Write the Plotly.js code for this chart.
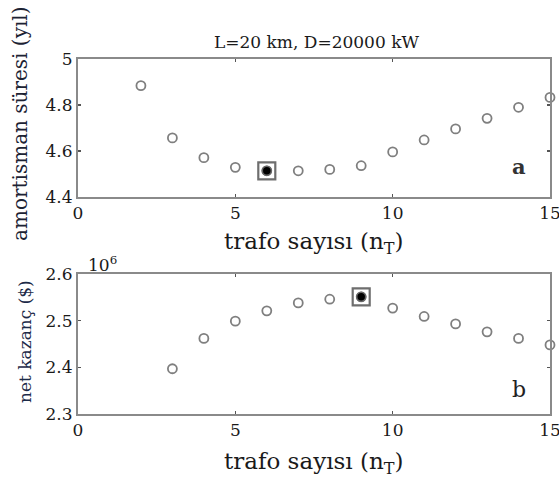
<!DOCTYPE html>
<html>
<head>
<meta charset="utf-8">
<script src="https://cdn.plot.ly/plotly-3.0.1.min.js"></script>
<style>html,body{margin:0;padding:0;background:#fff}#chart{width:559px;height:486px}</style>
</head>
<body>
<div id="chart"></div>
<script>
// Data
const nT_top = [2, 3, 4, 5, 6, 7, 8, 9, 10, 11, 12, 13, 14, 15];
const payback = [4.884, 4.657, 4.571, 4.529, 4.514, 4.514, 4.52, 4.536, 4.596, 4.648, 4.696, 4.742, 4.79, 4.833];
const bestTopX = [6];
const bestTopY = [4.514];

const nT_bot = [3, 4, 5, 6, 7, 8, 9, 10, 11, 12, 13, 14, 15];
const netGain = [2.397e6, 2.462e6, 2.499e6, 2.521e6, 2.538e6, 2.546e6, 2.551e6, 2.527e6, 2.509e6, 2.493e6, 2.476e6, 2.462e6, 2.448e6];
const bestBotX = [9];
const bestBotY = [2.551e6];

const xTicks = [0, 5, 10, 15];
const yTopTicks = [4.4, 4.6, 4.8, 5];
const yTopTickText = ['4.4', '4.6', '4.8', '5'];
const yBotTicks = [2.3e6, 2.4e6, 2.5e6, 2.6e6];
const yBotTickText = ['2.3', '2.4', '2.5', '2.6'];

const serif = 'DejaVu Serif, Liberation Serif, serif';
const txt = '#1a1a1a';
const grey = '#7f7f7f';

const openMarker = {symbol: 'circle-open', size: 9, color: grey, line: {width: 1.8, color: grey}};

function bestTraces(xs, ys, xa, ya) {
  return [
    {x: xs, y: ys, xaxis: xa, yaxis: ya, mode: 'markers', type: 'scatter', cliponaxis: false,
     marker: {symbol: 'square-open', size: 17, color: '#6e6e6e', line: {width: 2.2, color: '#6e6e6e'}}},
    {x: xs, y: ys, xaxis: xa, yaxis: ya, mode: 'markers', type: 'scatter', cliponaxis: false,
     marker: {symbol: 'circle', size: 9, color: '#000', line: {width: 1.5, color: '#666'}}}
  ];
}

const traces = [
  {x: nT_top, y: payback, xaxis: 'x', yaxis: 'y', mode: 'markers', type: 'scatter', marker: openMarker, cliponaxis: false},
  ...bestTraces(bestTopX, bestTopY, 'x', 'y'),
  {x: nT_bot, y: netGain, xaxis: 'x2', yaxis: 'y2', mode: 'markers', type: 'scatter', marker: openMarker, cliponaxis: false},
  ...bestTraces(bestBotX, bestBotY, 'x2', 'y2')
];

const axCommon = {
  showgrid: false, zeroline: false, showline: true, mirror: 'ticks',
  linecolor: '#8a8a8a', linewidth: 2, ticks: 'inside', ticklen: 3, tickwidth: 1.5, tickcolor: '#555',
  tickfont: {family: serif, size: 17, color: txt}, fixedrange: true, ticklabeloverflow: 'allow'
};

const xDom = [78/559, 550/559];

const layout = {
  width: 559, height: 486,
  margin: {l: 0, r: 0, t: 0, b: 0},
  paper_bgcolor: '#fff', plot_bgcolor: '#fff',
  showlegend: false,
  xaxis: Object.assign({}, axCommon, {domain: xDom, anchor: 'y', range: [0, 15], tickvals: xTicks}),
  yaxis: Object.assign({}, axCommon, {domain: [1 - 197/486, 1 - 59/486], anchor: 'x', range: [4.4, 5], tickvals: yTopTicks, ticktext: yTopTickText}),
  xaxis2: Object.assign({}, axCommon, {domain: xDom, anchor: 'y2', range: [0, 15], tickvals: xTicks}),
  yaxis2: Object.assign({}, axCommon, {domain: [1 - 414/486, 1 - 274/486], anchor: 'x2', range: [2.3e6, 2.6e6], tickvals: yBotTicks, ticktext: yBotTickText}),
  annotations: [
    {text: 'L=20 km, D=20000 kW', xref: 'paper', yref: 'paper', x: 316/559, y: 1 - 42/486, xanchor: 'center', yanchor: 'middle', showarrow: false,
     font: {family: serif, size: 17, color: txt}},
    {text: 'amortisman süresi (yıl)', xref: 'paper', yref: 'paper', x: 20/559, y: 1 - 124/486, xanchor: 'center', yanchor: 'middle', textangle: -90, showarrow: false,
     font: {family: serif, size: 20, color: '#1c2233'}},
    {text: 'trafo sayısı (n<sub>T</sub>)', xref: 'paper', yref: 'paper', x: 313/559, y: 1 - 243/486, xanchor: 'center', yanchor: 'middle', showarrow: false,
     font: {family: serif, size: 23, color: txt}},
    {text: 'net kazanç ($)', xref: 'paper', yref: 'paper', x: 25/559, y: 1 - 342/486, xanchor: 'center', yanchor: 'middle', textangle: -90, showarrow: false,
     font: {family: serif, size: 17, color: '#1c2a48'}},
    {text: '10<sup>6</sup>', xref: 'paper', yref: 'paper', x: 86/559, y: 1 - 264/486, xanchor: 'left', yanchor: 'middle', showarrow: false,
     font: {family: serif, size: 17, color: txt}},
    {text: 'trafo sayısı (n<sub>T</sub>)', xref: 'paper', yref: 'paper', x: 313/559, y: 1 - 463/486, xanchor: 'center', yanchor: 'middle', showarrow: false,
     font: {family: serif, size: 23, color: txt}},
    {text: '<b>a</b>', xref: 'paper', yref: 'paper', x: 519/559, y: 1 - 166/486, xanchor: 'center', yanchor: 'middle', showarrow: false,
     font: {family: serif, size: 21, color: '#333'}},
    {text: 'b', xref: 'paper', yref: 'paper', x: 519/559, y: 1 - 389/486, xanchor: 'center', yanchor: 'middle', showarrow: false,
     font: {family: serif, size: 22, color: '#222'}}
  ]
};

Plotly.newPlot('chart', traces, layout, {staticPlot: true, displayModeBar: false});
</script>
</body>
</html>
